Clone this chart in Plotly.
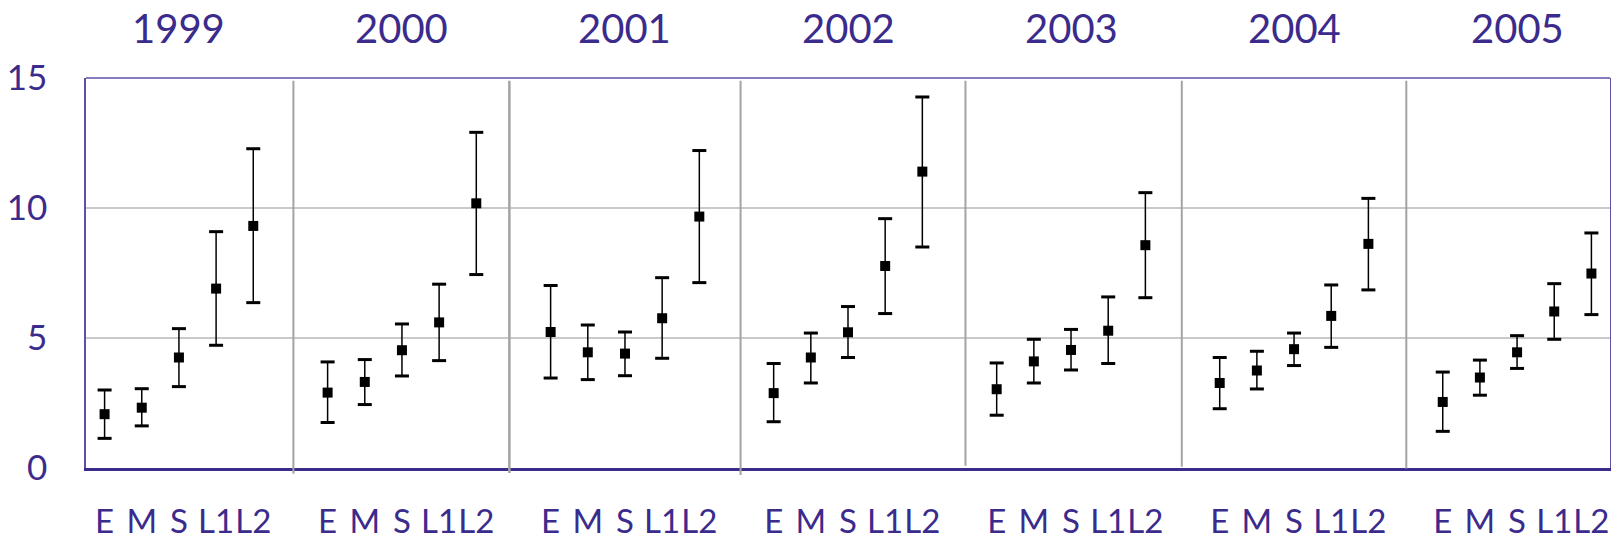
import plotly.graph_objects as go

# Survey years (one panel each) and the five groups within a year
years = ["1999", "2000", "2001", "2002", "2003", "2004", "2005"]
groups = ["E", "M", "S", "L1", "L2"]

# Point estimates, year by year, groups in the order above
estimate = [
    2.07, 2.32, 4.25, 6.90, 9.31,
    2.90, 3.31, 4.53, 5.60, 10.18,
    5.23, 4.45, 4.40, 5.76, 9.67,
    2.88, 4.25, 5.22, 7.77, 11.40,
    3.03, 4.10, 4.54, 5.28, 8.57,
    3.27, 3.75, 4.57, 5.85, 8.62,
    2.54, 3.48, 4.45, 6.02, 7.48,
]
# Upper interval bounds
upper = [
    3.00, 3.05, 5.36, 9.09, 12.28,
    4.08, 4.17, 5.54, 7.07, 12.91,
    7.02, 5.50, 5.23, 7.32, 12.21,
    4.02, 5.19, 6.21, 9.59, 14.27,
    4.04, 4.95, 5.33, 6.58, 10.59,
    4.25, 4.49, 5.19, 7.04, 10.37,
    3.69, 4.15, 5.09, 7.09, 9.04,
]
# Lower interval bounds
lower = [
    1.14, 1.62, 3.13, 4.72, 6.36,
    1.75, 2.44, 3.54, 4.13, 7.44,
    3.46, 3.40, 3.55, 4.22, 7.13,
    1.78, 3.27, 4.25, 5.94, 8.50,
    2.03, 3.27, 3.77, 4.02, 6.55,
    2.28, 3.04, 3.94, 4.64, 6.85,
    1.41, 2.80, 3.83, 4.95, 5.90,
]
y_ticks = [0, 5, 10, 15]

PURPLE = "#3b2b8c"
BORDER = "#5e50a8"
FONT = "Lato, Open Sans, sans-serif"

# each year occupies 6 slots: 5 groups plus one empty spacer slot
slot = len(groups) + 1
xs = [slot * y + g for y in range(len(years)) for g in range(len(groups))]
n_slots = slot * len(years) - 1
x_range = [-0.5, n_slots - 0.5]

fig = go.Figure()

# interval whiskers
fig.add_trace(go.Scatter(
    x=xs, y=estimate, mode="markers",
    marker=dict(symbol="square", size=10, color="black"),
    error_y=dict(
        type="data", symmetric=False,
        array=[u - e for u, e in zip(upper, estimate)],
        arrayminus=[e - l for e, l in zip(estimate, lower)],
        color="black", thickness=1.5, width=0,
    ),
    showlegend=False, hoverinfo="skip",
))
# end caps of the whiskers
fig.add_trace(go.Scatter(
    x=xs + xs, y=upper + lower, mode="markers",
    marker=dict(symbol="line-ew", size=10, line=dict(color="black", width=3)),
    showlegend=False, hoverinfo="skip",
))

# year headings
for i, yr in enumerate(years):
    fig.add_annotation(
        x=slot * i + 2, xref="x", y=1.127, yref="paper",
        text=yr, showarrow=False, yanchor="middle", xanchor="center",
        font=dict(family=FONT, size=40, color=PURPLE),
    )

# vertical dividers between the yearly panels (slight hand-placed offsets)
divider_offsets = [0.08, -0.11, 0.11, 0.16, -0.02, 0.02]
divider_bottom = [-0.015, -0.013, -0.018, 0.006, 0.003, -0.001]
span = x_range[1] - x_range[0]
for k, (off, yb) in enumerate(zip(divider_offsets, divider_bottom)):
    xd = slot * (k + 1) - 1 + off
    xp = (xd - x_range[0]) / span
    fig.add_shape(
        type="line", xref="paper", yref="paper",
        x0=xp, x1=xp, y0=yb, y1=0.993,
        line=dict(color="#a3a3a3", width=2.5 if k == 1 else 2),
        layer="above",
    )

# thin frame along the top edge
fig.add_shape(type="line", xref="paper", yref="paper", x0=0, x1=1, y0=1, y1=1,
              line=dict(color=BORDER, width=1.5), layer="above")

fig.update_xaxes(
    range=x_range,
    tickmode="array",
    tickvals=xs,
    ticktext=[groups[i % len(groups)] for i in range(len(xs))],
    tickfont=dict(family=FONT, size=33, color=PURPLE),
    tickangle=0, automargin=False,
    ticks="", ticklabelstandoff=22,
    showgrid=False, zeroline=False,
    showline=True, linecolor=PURPLE, linewidth=3,
)
fig.update_yaxes(
    range=[0, 15],
    tickmode="array", tickvals=y_ticks,
    tickfont=dict(family=FONT, size=35, color=PURPLE),
    automargin=False,
    ticks="", ticklabelstandoff=30,
    showgrid=True, gridcolor="#c9c9c9", gridwidth=1.5,
    zeroline=False,
    showline=True, linecolor=BORDER, linewidth=1.5, mirror=True,
)

fig.update_layout(
    width=1611, height=540,
    margin=dict(l=86, r=1, t=78, b=72),
    plot_bgcolor="white", paper_bgcolor="white",
)

fig.write_html("out.html")
